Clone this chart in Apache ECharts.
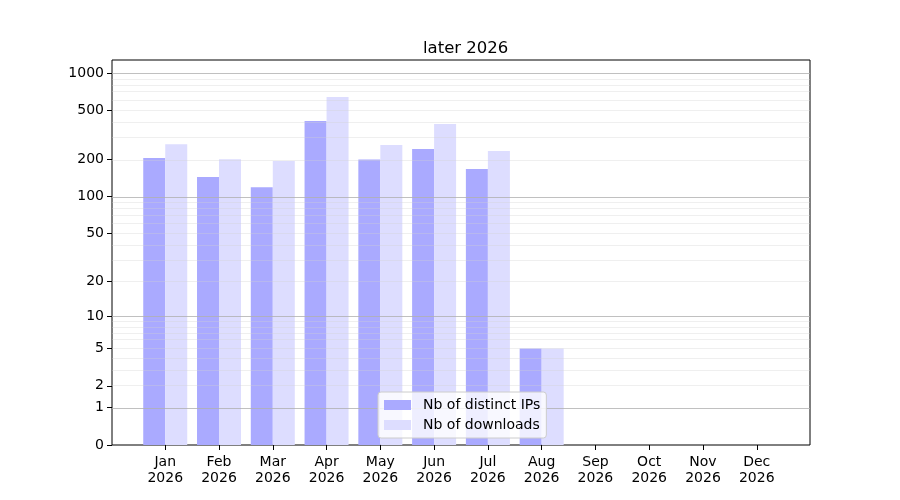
<!DOCTYPE html>
<html>
<head>
<meta charset="utf-8">
<script src="https://cdn.jsdelivr.net/npm/echarts@6/dist/echarts.min.js"></script>
<style>
    html, body { margin: 0; padding: 0; background: #fff; }
    #chart { width: 900px; height: 500px; }
</style>
</head>
<body>
<div id="chart"></div>
<script>
    // data
    var months = ['Jan', 'Feb', 'Mar', 'Apr', 'May', 'Jun', 'Jul', 'Aug', 'Sep', 'Oct', 'Nov', 'Dec'];
    var year = '2026';
    var distinctIps = [205, 144, 119, 409, 200, 243, 167, 5, 0, 0, 0, 0];
    var downloads = [266, 201, 194, 639, 262, 387, 234, 5, 0, 0, 0, 0];
    var yTicks = [0, 1, 2, 5, 10, 20, 50, 100, 200, 500, 1000];
    var majorGrid = [1, 10, 100, 1000];
    var minorGrid = [2, 3, 4, 5, 6, 7, 8, 9, 20, 30, 40, 50, 60, 70, 80, 90, 200, 300, 400, 500, 600, 700, 800, 900];

    // y scale is log10(1 + v)
    function fwd(v) { return Math.log10(1 + v); }
    function inv(t) { return Math.round(Math.pow(10, t) - 1); }

    function toPoints(arr) {
        return arr.map(function (v, i) { return [i, fwd(v)]; });
    }

    var font = 'DejaVu Sans';
    var chart = echarts.init(document.getElementById('chart'));

    var gridLines = [];
    majorGrid.forEach(function (v) {
        gridLines.push({ yAxis: fwd(v), lineStyle: { color: '#b0b0b0', width: 1, type: 'solid', opacity: 0.8 } });
    });
    minorGrid.forEach(function (v) {
        gridLines.push({ yAxis: fwd(v), lineStyle: { color: '#d0d0d0', width: 1, type: 'solid', opacity: 0.35 } });
    });

    var option = {
        animation: false,
        title: {
            text: 'later 2026',
            left: 418,
            top: 35,
            textStyle: { fontFamily: font, fontSize: 16.5, fontWeight: 'normal', color: '#000' }
        },
        grid: {
            left: 112, right: 90, top: 60, bottom: 55,
            show: true, borderColor: '#000', borderWidth: 1, backgroundColor: 'transparent'
        },
        legend: {
            orient: 'vertical',
            left: 378,
            top: 392,
            z: 10,
            padding: [6, 6, 6, 6],
            itemGap: 6,
            itemWidth: 27,
            itemHeight: 10,
            backgroundColor: 'rgba(255,255,255,0.8)',
            borderColor: '#cccccc',
            borderWidth: 1,
            borderRadius: 3,
            textStyle: { fontFamily: font, fontSize: 14, color: '#000', padding: [0, 0, 0, 7] },
            data: [
                { name: 'Nb of distinct IPs', icon: 'rect' },
                { name: 'Nb of downloads', icon: 'rect' }
            ]
        },
        xAxis: {
            type: 'value',
            min: -0.99,
            max: 11.99,
            axisLine: { show: false, onZero: false },
            splitLine: { show: false },
            axisTick: {
                show: true, length: 5, inside: false,
                customValues: months.map(function (m, i) { return i; }),
                lineStyle: { color: '#000' }
            },
            axisLabel: {
                customValues: months.map(function (m, i) { return i; }),
                formatter: function (v) { return months[Math.round(v)] + '\n' + year; },
                fontFamily: font, fontSize: 14, color: '#000', lineHeight: 16, margin: 9
            }
        },
        yAxis: {
            type: 'value',
            min: 0,
            max: 3.105,
            axisLine: { show: false, onZero: false },
            splitLine: { show: false },
            axisTick: {
                show: true, length: 5,
                customValues: yTicks.map(fwd),
                lineStyle: { color: '#000' }
            },
            axisLabel: {
                customValues: yTicks.map(fwd),
                formatter: function (v) { return String(inv(v)); },
                fontFamily: font, fontSize: 14, color: '#000', margin: 8
            }
        },
        series: [
            {
                name: 'Nb of distinct IPs',
                type: 'bar',
                barWidth: 22,
                barGap: '0%',
                itemStyle: { color: '#aaaaff' },
                data: toPoints(distinctIps)
            },
            {
                name: 'Nb of downloads',
                type: 'bar',
                barWidth: 22,
                barGap: '0%',
                itemStyle: { color: '#ddddff' },
                data: toPoints(downloads),
                markLine: {
                    silent: true,
                    symbol: ['none', 'none'],
                    label: { show: false },
                    data: gridLines
                }
            }
        ]
    };
    chart.setOption(option);
</script>
</body>
</html>
